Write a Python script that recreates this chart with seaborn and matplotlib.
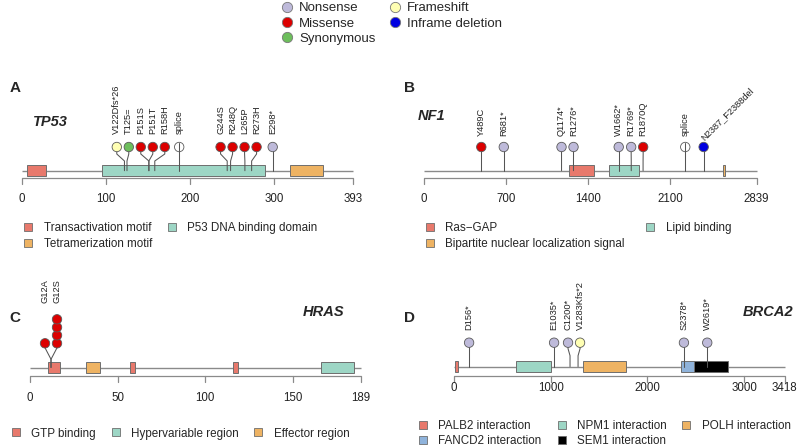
import numpy as np
import pandas as pd
import matplotlib
matplotlib.use("Agg")
import matplotlib.pyplot as plt
from matplotlib.patches import Rectangle
from matplotlib.lines import Line2D
import seaborn as sns

sns.set_theme(style="white")
plt.rcParams["font.family"] = ["Liberation Sans", "DejaVu Sans"]

# ------------------------------------------------------------------ data
mut_types = ["Nonsense", "Missense", "Synonymous", "Frameshift", "Inframe deletion"]
type_colors = {"Nonsense": "#BEBADA", "Missense": "#DC0000", "Synonymous": "#6DBE5C",
               "Frameshift": "#FFFFB3", "Inframe deletion": "#0000E0", "Splice": "#FFFFFF"}

tp53_length = 393
tp53_ticks = [0, 100, 200, 300, 393]
tp53_mut_labels = ["V122Dfs*26", "T125=", "P151S", "P151T", "R158H", "splice",
                   "G244S", "R248Q", "L265P", "R273H", "E298*"]
tp53_mut_pos = [122, 125, 151, 151, 158, 187, 244, 248, 265, 273, 298]
tp53_mut_type = ["Frameshift", "Synonymous", "Missense", "Missense", "Missense", "Splice",
                 "Missense", "Missense", "Missense", "Missense", "Nonsense"]
tp53_mut_count = [1, 1, 1, 1, 1, 1, 1, 1, 1, 1, 1]
tp53_dom_names = ["Transactivation motif", "P53 DNA binding domain", "Tetramerization motif"]
tp53_dom_start = [6, 95, 319]
tp53_dom_end = [29, 289, 358]
tp53_legend_order = ["Transactivation motif", "Tetramerization motif", "P53 DNA binding domain"]

nf1_length = 2839
nf1_ticks = [0, 700, 1400, 2100, 2839]
nf1_mut_labels = ["Y489C", "R681*", "Q1174*", "R1276*", "W1662*", "R1769*", "R1870Q",
                  "splice", "N2387_F2388del"]
nf1_mut_pos = [489, 681, 1174, 1276, 1662, 1769, 1870, 2230, 2387]
nf1_mut_type = ["Missense", "Nonsense", "Nonsense", "Nonsense", "Nonsense", "Nonsense",
                "Missense", "Splice", "Inframe deletion"]
nf1_mut_count = [1, 1, 1, 1, 1, 1, 1, 1, 1]
nf1_dom_names = ["Ras\u2212GAP", "Lipid binding", "Bipartite nuclear localization signal"]
nf1_dom_start = [1235, 1580, 2555]
nf1_dom_end = [1451, 1837, 2571]
nf1_legend_order = ["Ras\u2212GAP", "Bipartite nuclear localization signal", "Lipid binding"]

hras_length = 189
hras_ticks = [0, 50, 100, 150, 189]
hras_mut_labels = ["G12A", "G12S"]
hras_mut_pos = [12, 12]
hras_mut_type = ["Missense", "Missense"]
hras_mut_count = [1, 4]
hras_dom_names = ["GTP binding", "Effector region", "GTP binding", "GTP binding",
                  "Hypervariable region"]
hras_dom_start = [10, 32, 57, 116, 166]
hras_dom_end = [17, 40, 60, 119, 185]
hras_legend_order = ["GTP binding", "Hypervariable region", "Effector region"]

brca2_length = 3418
brca2_ticks = [0, 1000, 2000, 3000, 3418]
brca2_mut_labels = ["D156*", "E1035*", "C1200*", "V1283Kfs*2", "S2378*", "W2619*"]
brca2_mut_pos = [156, 1035, 1200, 1283, 2378, 2619]
brca2_mut_type = ["Nonsense", "Nonsense", "Nonsense", "Frameshift", "Nonsense", "Nonsense"]
brca2_mut_count = [1, 1, 1, 1, 1, 1]
brca2_dom_names = ["PALB2 interaction", "NPM1 interaction", "POLH interaction",
                   "FANCD2 interaction", "SEM1 interaction"]
brca2_dom_start = [10, 639, 1338, 2350, 2481]
brca2_dom_end = [40, 1000, 1781, 2545, 2832]
brca2_legend_order = ["PALB2 interaction", "FANCD2 interaction", "NPM1 interaction",
                      "SEM1 interaction", "POLH interaction"]

domain_colors = {
    "Transactivation motif": "#E8796C", "Tetramerization motif": "#EEB363",
    "P53 DNA binding domain": "#9DD6C5",
    "Ras\u2212GAP": "#E8796C", "Lipid binding": "#9DD6C5",
    "Bipartite nuclear localization signal": "#EEB363",
    "GTP binding": "#E8796C", "Hypervariable region": "#9DD6C5", "Effector region": "#EEB363",
    "PALB2 interaction": "#E8796C", "NPM1 interaction": "#9DD6C5", "POLH interaction": "#EEB363",
    "FANCD2 interaction": "#8FB3DB", "SEM1 interaction": "#000000",
}

# ------------------------------------------------------------------ layout
W, H = 800, 447
fig = plt.figure(figsize=(W / 100, H / 100), dpi=100)
fig.patch.set_facecolor("white")


def fx(px):
    return px / W


def fy(py):
    return 1 - py / H


panels = [
    dict(letter="A", gene="TP53", length=tp53_length, ticks=tp53_ticks,
         labels=tp53_mut_labels, pos=tp53_mut_pos, types=tp53_mut_type, counts=tp53_mut_count,
         dnames=tp53_dom_names, dstart=tp53_dom_start, dend=tp53_dom_end,
         lorder=tp53_legend_order, ncol=2, colsp=1.25, lsp=0.34,
         xpx=(21.7, 352.7), region=(0, 400, 50, 262), yc=147, ya=7, yb=14, label_gap=12.5,
         backbone=170.7, boxh=10.6, axis=178.5, ticklab=199.5,
         title=(33, 122), letterxy=(15, 88), legxy=(22.5, 222.5)),
    dict(letter="B", gene="NF1", length=nf1_length, ticks=nf1_ticks,
         labels=nf1_mut_labels, pos=nf1_mut_pos, types=nf1_mut_type, counts=nf1_mut_count,
         dnames=nf1_dom_names, dstart=nf1_dom_start, dend=nf1_dom_end,
         lorder=nf1_legend_order, ncol=2, colsp=1.7, lsp=0.34,
         xpx=(424.0, 756.6), region=(400, 800, 50, 262), yc=147, ya=7, yb=14, label_gap=11.5,
         backbone=170.7, boxh=10.6, axis=178.5, ticklab=199.5,
         title=(418, 116), letterxy=(410, 88), legxy=(424.2, 222.5)),
    dict(letter="C", gene="HRAS", length=hras_length, ticks=hras_ticks,
         labels=hras_mut_labels, pos=hras_mut_pos, types=hras_mut_type, counts=hras_mut_count,
         dnames=hras_dom_names, dstart=hras_dom_start, dend=hras_dom_end,
         lorder=hras_legend_order, ncol=3, colsp=1.2, lsp=0.3,
         xpx=(30.0, 361.0), region=(0, 400, 285, 447), yc=343.3, ya=4.5, yb=16, label_gap=16,
         backbone=367.5, boxh=10.6, axis=376, ticklab=397.5,
         title=(303, 312), letterxy=(15, 318), legxy=(10.2, 427.5)),
    dict(letter="D", gene="BRCA2", length=brca2_length, ticks=brca2_ticks,
         labels=brca2_mut_labels, pos=brca2_mut_pos, types=brca2_mut_type, counts=brca2_mut_count,
         dnames=brca2_dom_names, dstart=brca2_dom_start, dend=brca2_dom_end,
         lorder=brca2_legend_order, ncol=3, colsp=1.2, lsp=0.27,
         xpx=(454.0, 784.5), region=(400, 800, 285, 447), yc=342.7, ya=6, yb=13, label_gap=12.5,
         backbone=366.6, boxh=10.6, axis=376, ticklab=388,
         title=(743, 312), letterxy=(410, 318), legxy=(417.5, 419.8)),
]

MIN_SEP = 12.0  # px between lollipop heads
STACK = 8.0     # px between stacked heads
GREY = "#8A8A8A"
STEM = "#555555"


def spread(pxs, d):
    pxs = np.asarray(pxs, float)
    order = list(np.argsort(pxs, kind="stable"))
    clusters = [[i] for i in order]

    def lay(c):
        return pxs[c].mean() + (np.arange(len(c)) - (len(c) - 1) / 2) * d

    changed = True
    while changed:
        changed = False
        for k in range(len(clusters) - 1):
            a, b = lay(clusters[k]), lay(clusters[k + 1])
            if b[0] - a[-1] < d - 1e-9:
                clusters[k] = clusters[k] + clusters[k + 1]
                del clusters[k + 1]
                changed = True
                break
    out = np.empty(len(pxs))
    for c in clusters:
        out[c] = lay(c)
    return out


for p in panels:
    x0, x1 = p["xpx"]
    L = p["length"]
    s = (x1 - x0) / L
    left, right, top, bottom = p["region"]
    ax = fig.add_axes([fx(left), fy(bottom), (right - left) / W, (bottom - top) / H])

    # backbone
    ax.plot([0, L], [p["backbone"]] * 2, color=GREY, lw=1.0, zorder=1, solid_capstyle="butt")
    # domains
    for nm, a, b in zip(p["dnames"], p["dstart"], p["dend"]):
        ax.add_patch(Rectangle((a, p["backbone"] - p["boxh"] / 2), b - a, p["boxh"],
                               facecolor=domain_colors[nm], edgecolor="#6E6E6E", lw=0.7, zorder=2))
    # axis
    ax.plot([0, L], [p["axis"]] * 2, color=GREY, lw=0.9, zorder=1, solid_capstyle="butt")
    for t in p["ticks"]:
        ax.plot([t, t], [p["axis"], p["axis"] + 5.5], color=GREY, lw=0.9, zorder=1)
        ax.text(t, p["ticklab"], str(t), ha="center", va="center", fontsize=8.3, color="#222222")

    # lollipops
    pos = np.asarray(p["pos"], float)
    disp = (spread(x0 + pos * s, MIN_SEP) - x0) / s
    rows = []
    top_y = p["yc"]
    for i, (lab, ps, tp, cnt) in enumerate(zip(p["labels"], pos, p["types"], p["counts"])):
        yc = p["yc"]
        ax.plot([ps, ps, disp[i], disp[i]],
                [p["backbone"], yc + p["yb"], yc + p["ya"], yc],
                color=STEM, lw=0.75, zorder=3)
        for k in range(cnt):
            rows.append(dict(x=disp[i], y=yc - k * STACK, type=tp))
            top_y = min(top_y, yc - k * STACK)
        if tp == "Splice":
            ax.plot([disp[i], disp[i]], [yc + 4.4, yc - 4.4], color=STEM, lw=0.75, zorder=5)
    df = pd.DataFrame(rows)
    sns.scatterplot(data=df, x="x", y="y", hue="type", palette=type_colors, s=46,
                    edgecolor="#5A5A5A", linewidth=0.6, legend=False, ax=ax, zorder=4)
    ax.set_xlim((left - x0) / s, (right - x0) / s)
    ax.set_ylim(bottom, top)
    ax.axis("off")

    ylab = top_y - p["label_gap"]
    for i, lab in enumerate(p["labels"]):
        if len(lab) > 12:
            ax.text(disp[i] - 1 / s, ylab + 3, lab, rotation=45, rotation_mode="anchor",
                    ha="left", va="center", fontsize=6.7, color="#222222")
        else:
            ax.text(disp[i], ylab, lab, rotation=90, ha="center", va="bottom",
                    fontsize=6.7, color="#222222")

    # title & letter
    fig.text(fx(p["title"][0]), fy(p["title"][1]), p["gene"], fontsize=10.5,
             fontweight="bold", fontstyle="italic", ha="left", va="center")
    fig.text(fx(p["letterxy"][0]), fy(p["letterxy"][1]), p["letter"], fontsize=11,
             fontweight="bold", ha="center", va="center")

    # domain legend
    handles = [Line2D([], [], ls="none", marker="s", markersize=6,
                      markerfacecolor=domain_colors[nm], markeredgecolor="#6E6E6E",
                      markeredgewidth=0.6) for nm in p["lorder"]]
    fig.legend(handles, p["lorder"], loc="upper left",
               bbox_to_anchor=(fx(p["legxy"][0]), fy(p["legxy"][1])), ncol=p["ncol"],
               frameon=False, fontsize=8.4, handlelength=1.0, handletextpad=0.8,
               labelspacing=p["lsp"], columnspacing=p["colsp"], borderpad=0, borderaxespad=0)

# top legend of mutation types
th = [Line2D([], [], ls="none", marker="o", markersize=7.4, markerfacecolor=type_colors[t],
             markeredgecolor="#777777", markeredgewidth=0.6) for t in mut_types]
fig.legend(th, mut_types, loc="upper left", bbox_to_anchor=(fx(282), fy(2.0)), ncol=2,
           frameon=False, fontsize=9.5, handlelength=0.8, handletextpad=0.5,
           labelspacing=0.24, columnspacing=1.05, borderpad=0, borderaxespad=0)

fig.savefig("out.png", dpi=100, facecolor="white")
